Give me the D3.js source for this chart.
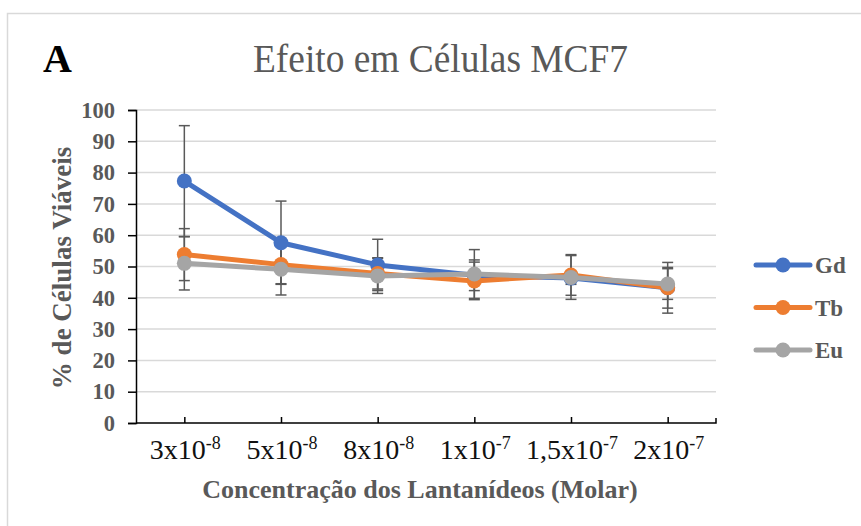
<!DOCTYPE html>
<html>
<head>
<meta charset="utf-8">
<script src="https://cdn.jsdelivr.net/npm/d3@7"></script>
<style>
  html, body { margin: 0; padding: 0; background: #fff; }
  svg { display: block; }
</style>
</head>
<body>
<script>
// Concentrations (mantissa + exponent shown as superscript)
const categories = ["3x10", "5x10", "8x10", "1x10", "1,5x10", "2x10"];
const exponents  = ["-8", "-8", "-8", "-7", "-7", "-7"];

// % viable MCF7 cells and error (±) per lanthanide
const gdValues = [77.3, 57.6, 50.5, 47.2, 46.3, 43.2];
const gdErrors = [17.7, 13.3, 8.2, 4.9, 2.0, 8.1];
const tbValues = [53.8, 50.6, 47.8, 45.4, 47.3, 43.2];
const tbErrors = [8.3, 6.1, 5.0, 6.0, 6.5, 6.5];
const euValues = [51.0, 49.1, 47.0, 47.6, 46.5, 44.4];
const euErrors = [8.5, 8.2, 5.6, 7.8, 7.0, 4.9];

const seriesNames  = ["Gd", "Tb", "Eu"];
const seriesColors = ["#4472C4", "#ED7D31", "#A5A5A5"];
const yTicks = [0, 10, 20, 30, 40, 50, 60, 70, 80, 90, 100];

const series = [
  { name: seriesNames[0], color: seriesColors[0], values: gdValues, errors: gdErrors },
  { name: seriesNames[1], color: seriesColors[1], values: tbValues, errors: tbErrors },
  { name: seriesNames[2], color: seriesColors[2], values: euValues, errors: euErrors }
];

const W = 861, H = 526;
const plot = { left: 136, right: 716, top: 110, bottom: 423 };
const SERIF = "'Liberation Serif', 'Times New Roman', Times, serif";

const svg = d3.select("body").append("svg").attr("width", W).attr("height", H);

// chart frame
svg.append("rect")
  .attr("x", 7.5).attr("y", 13.5)
  .attr("width", W + 20).attr("height", H + 20)
  .attr("fill", "#fff").attr("stroke", "#d9d9d9").attr("stroke-width", 1.5);

const x = d3.scalePoint().domain(d3.range(categories.length))
  .range([plot.left, plot.right]).padding(0.5);
const y = d3.scaleLinear().domain([0, 100]).range([plot.bottom, plot.top]);

// panel letter and title
svg.append("text").attr("x", 43).attr("y", 72)
  .attr("font-family", SERIF).attr("font-weight", "bold")
  .attr("font-size", 40).attr("fill", "#000").text("A");

svg.append("text").attr("x", 253).attr("y", 72)
  .attr("font-family", SERIF).attr("font-size", 39)
  .attr("textLength", 375).attr("lengthAdjust", "spacingAndGlyphs")
  .attr("fill", "#595959").text("Efeito em Células MCF7");

// gridlines
svg.append("g").selectAll("line").data(yTicks.filter(d => d > 0)).join("line")
  .attr("x1", plot.left).attr("x2", plot.right)
  .attr("y1", d => y(d)).attr("y2", d => y(d))
  .attr("stroke", "#d9d9d9").attr("stroke-width", 1.5);

// y axis
const yAxis = svg.append("g").attr("transform", `translate(${plot.left},0)`)
  .call(d3.axisLeft(y).tickValues(yTicks).tickSize(8).tickPadding(13));
yAxis.select(".domain").attr("stroke", "#000").attr("stroke-width", 1.5);
yAxis.selectAll(".tick line").attr("stroke", "#000").attr("stroke-width", 1.5);
yAxis.selectAll(".tick text")
  .attr("font-family", SERIF).attr("font-weight", "bold")
  .attr("font-size", 22.5).attr("fill", "#595959");

// x axis (ticks point up into the plot)
const xAxis = svg.append("g").attr("transform", `translate(0,${plot.bottom})`)
  .call(d3.axisBottom(x).tickSize(-6).tickSizeOuter(0).tickFormat(() => ""));
xAxis.select(".domain").attr("stroke", "#000").attr("stroke-width", 1.5)
  .attr("d", `M${plot.left},0H${plot.right}V-5`);
xAxis.selectAll(".tick line").attr("stroke", "#000").attr("stroke-width", 1.5);

// x tick labels with superscript exponent
const xLabels = svg.append("g").selectAll("text").data(categories).join("text")
  .attr("x", (d, i) => x(i) + 1).attr("y", 459)
  .attr("text-anchor", "middle")
  .attr("font-family", SERIF).attr("font-size", 28)
  .attr("fill", "#111");
xLabels.append("tspan").text(d => d);
xLabels.append("tspan").attr("dy", -10).attr("font-size", 18)
  .text((d, i) => exponents[i]);

// axis titles
svg.append("text")
  .attr("x", 420).attr("y", 498)
  .attr("text-anchor", "middle")
  .attr("font-family", SERIF).attr("font-weight", "bold")
  .attr("font-size", 26).attr("fill", "#595959")
  .text("Concentração dos Lantanídeos (Molar)");

svg.append("text")
  .attr("transform", "translate(71,268) rotate(-90)")
  .attr("text-anchor", "middle")
  .attr("font-family", SERIF).attr("font-weight", "bold")
  .attr("font-size", 27).attr("fill", "#595959")
  .text("% de Células Viáveis");

// error bars
const eb = svg.append("g");
series.forEach(s => {
  s.values.forEach((v, i) => {
    const cx = x(i), hi = y(v + s.errors[i]), lo = y(v - s.errors[i]);
    eb.append("line").attr("x1", cx).attr("x2", cx).attr("y1", hi).attr("y2", lo)
      .attr("stroke", "#595959").attr("stroke-width", 1.5);
    [hi, lo].forEach(yy => eb.append("line")
      .attr("x1", cx - 5.5).attr("x2", cx + 5.5).attr("y1", yy).attr("y2", yy)
      .attr("stroke", "#595959").attr("stroke-width", 1.5));
  });
});

// lines and markers
const line = d3.line().x((d, i) => x(i)).y(d => y(d));
series.forEach(s => {
  const g = svg.append("g");
  g.append("path").datum(s.values).attr("d", line)
    .attr("fill", "none").attr("stroke", s.color).attr("stroke-width", 5)
    .attr("stroke-linejoin", "round").attr("stroke-linecap", "round");
  g.selectAll("circle").data(s.values).join("circle")
    .attr("cx", (d, i) => x(i)).attr("cy", d => y(d)).attr("r", 7.5)
    .attr("fill", s.color);
});

// legend
const legend = svg.append("g");
series.forEach((s, k) => {
  const ly = 265 + k * 42.5;
  legend.append("line").attr("x1", 756).attr("x2", 810).attr("y1", ly).attr("y2", ly)
    .attr("stroke", s.color).attr("stroke-width", 5).attr("stroke-linecap", "round");
  legend.append("circle").attr("cx", 783).attr("cy", ly).attr("r", 7.5).attr("fill", s.color);
  legend.append("text").attr("x", 815).attr("y", ly + 8)
    .attr("font-family", SERIF).attr("font-weight", "bold")
    .attr("font-size", 23).attr("fill", "#595959").text(s.name);
});
</script>
</body>
</html>
